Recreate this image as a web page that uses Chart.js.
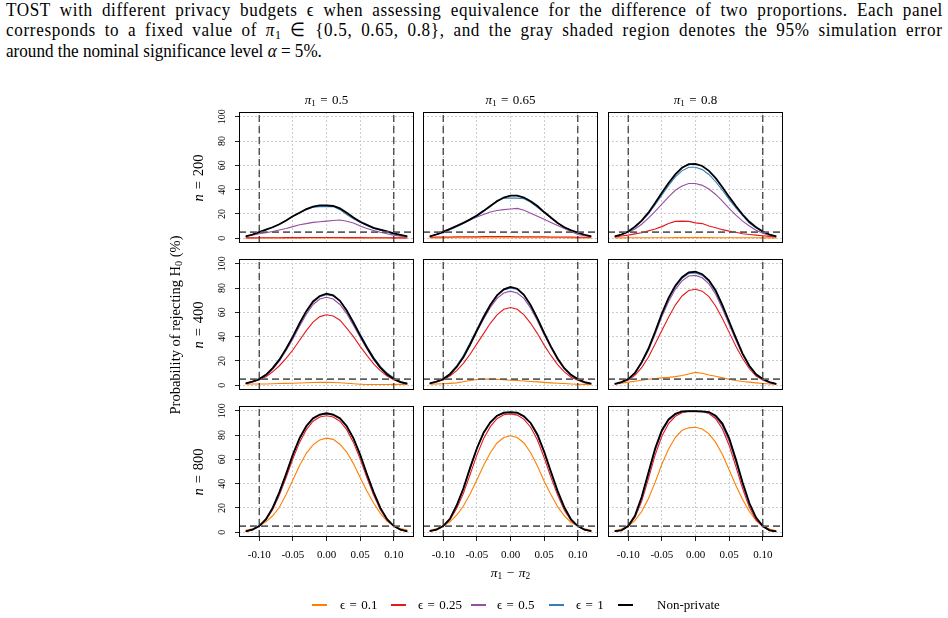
<!DOCTYPE html>
<html><head><meta charset="utf-8">
<script src="https://cdn.jsdelivr.net/npm/chart.js@4.4.1/dist/chart.umd.min.js"></script>
<style>
html,body{margin:0;padding:0;background:#fff;}
#page{position:relative;width:948px;height:618px;overflow:hidden;font-family:"Liberation Serif","Times New Roman",serif;color:#000;}
.cap{position:absolute;left:6px;font-size:19px;line-height:20px;white-space:nowrap;transform-origin:0 0;}
.lbl{position:absolute;transform:translate(-50%,-50%);white-space:nowrap;}
.rot{transform:translate(-50%,-50%) rotate(-90deg);}
canvas{position:absolute;}
sub{font-size:70%;vertical-align:-0.25em;line-height:0;}
.sw{position:absolute;height:2px;}
.lt{position:absolute;font-size:13px;white-space:nowrap;transform:translateY(-50%);}
</style></head>
<body><div id="page">
<div class="cap" id="cap1" style="top:-0.5px">TOST with different privacy budgets ϵ when assessing equivalence for the difference of two proportions. Each panel</div>
<div class="cap" id="cap2" style="top:20px">corresponds to a fixed value of <i>π</i><sub>1</sub> ∈ {0.5, 0.65, 0.8}, and the gray shaded region denotes the 95% simulation error</div>
<div class="cap" id="cap3" style="top:40.5px">around the nominal significance level <i>α</i> = 5%.</div>
</div>
<script>
// ---------------- data ----------------
const diffs = [-0.12,-0.11,-0.10,-0.09,-0.08,-0.07,-0.06,-0.05,-0.04,-0.03,-0.02,-0.01,0,0.01,0.02,0.03,0.04,0.05,0.06,0.07,0.08,0.09,0.10,0.11,0.12];
const xTickValues = [-0.10,-0.05,0.00,0.05,0.10];
const xTickLabels = ['-0.10','-0.05','0.00','0.05','0.10'];
const yTickValues = [0,20,40,60,80,100];
const yTickLabels = ['0','20','40','60','80','100'];
const nValues = [200,400,800];
const pi1Values = ['0.5','0.65','0.8'];
const seriesLabels = ['ϵ = 0.1','ϵ = 0.25','ϵ = 0.5','ϵ = 1','Non-private'];
const eqMargins = [-0.10, 0.10];
const alphaLevel = 5;

// n = 200
const e01_n200_p050  = [0.1,0.1,0.1,0.1,0.1,0.1,0.1,0.2,0.2,0.2,0.2,0.2,0.2,0.2,0.2,0.2,0.2,0.2,0.1,0.1,0.1,0.1,0.1,0.1,0.1];
const e025_n200_p050 = [0.2,0.2,0.3,0.3,0.3,0.3,0.4,0.4,0.4,0.5,0.5,0.5,0.5,0.5,0.5,0.4,0.4,0.4,0.3,0.3,0.3,0.3,0.2,0.2,0.2];
const e05_n200_p050  = [1.4,2.5,3.6,4.5,5.5,6.7,8,9.5,11,12,13,13.5,14,14.5,15,14,12.5,10,8,6.3,4.8,3.6,2.5,1.6,1];
const e1_n200_p050   = [1.4,3,5,7,9,11.5,14.5,18,21,23.5,25.5,26,26,26,23.5,19.5,16,13,10.5,8,6.5,5,3.5,2.5,1.3];
const np_n200_p050   = [1.4,3,5,7,9,11.5,14.5,18,21,24,26,27,27,26.5,24.5,21,17,13.5,11,8.5,7,5.5,4,2.8,1.4];

const e01_n200_p065  = [0.2,0.2,0.2,0.3,0.3,0.3,0.3,0.3,0.3,0.3,0.3,0.3,0.3,0.3,0.3,0.3,0.3,0.3,0.3,0.3,0.3,0.2,0.2,0.2,0.2];
const e025_n200_p065 = [0.8,0.9,1,1,1.1,1.1,1.2,1.2,1.3,1.3,1.3,1.3,1.3,1.2,1.2,1.2,1.1,1.1,1,1,0.9,0.9,0.8,0.8,0.8];
const e05_n200_p065  = [1.4,3.5,5.8,8,10.5,13,15.2,17.5,19.5,21.5,22.8,23.5,24,24.5,23,20.5,18,15.5,13,10.5,8,5.5,3,2,1.3];
const e1_n200_p065   = [1.4,3,5,7,9.5,12,15,18,22,26,31,33,33,33,32.5,29.5,25.5,21,16.5,12.5,9,6.5,4.5,2.8,1.4];
const np_n200_p065   = [1.4,3,5,7.5,10,12.5,15.5,18.7,22.5,26.5,30.5,33.5,35,35,33.5,30.5,26.5,21.5,17,12.5,9,6.5,4.5,2.8,1.4];

const e01_n200_p080  = [0.2,0.2,0.3,0.3,0.3,0.3,0.3,0.3,0.3,0.4,0.4,0.4,0.4,0.4,0.4,0.3,0.3,0.3,0.3,0.3,0.3,0.3,0.2,0.2,0.2];
const e025_n200_p080 = [1,1.8,2.5,3.5,4.5,6,7.5,9.5,12,13.8,14,13.8,12.6,12,10,8.5,7,5.8,4.8,3.6,3,2.5,2,1.5,1];
const e05_n200_p080  = [1.4,2.8,4.8,7.5,11.5,16.5,22,28,34,39.5,43,45,45,43.5,40.5,36,30.5,24.5,19,14,10,6.5,4,2.3,1.2];
const e1_n200_p080   = [1.4,3,5.3,9,14,20,27.5,35.5,43.5,50.5,55.5,58.5,58.5,56.5,52.5,46.5,39.5,32,25,18.5,12.5,8.5,5,2.8,1.3];
const np_n200_p080   = [1.4,3,5.5,9.5,14.5,21,29,37.5,45.5,52.5,58,61,61.3,59.5,55.5,49.5,42,34,26.5,19.5,13.5,9,5.5,3,1.4];

// n = 400
const e01_n400_p050  = [0.8,1,1,1,1.2,1.3,1.5,1.6,1.8,2,2.2,2.3,2.3,2.2,2,1.6,1.2,0.8,0.5,0.5,0.5,0.5,0.6,0.6,0.5];
const e025_n400_p050 = [1.2,2.5,4.5,7,11,16,22,29,37,45,52,56.5,58,57,53.5,47,40,32,24.5,17.5,12,7.5,4.5,2.2,1];
const e05_n400_p050  = [1.3,2.8,4.8,8,13,20,28.5,38,48.5,58.5,66.5,71,72.5,71,66.5,59,49.5,39.5,30,21,14,8.5,5,2.5,1.2];
const e1_n400_p050   = [1.4,3,5,8.5,14,21,30,40,50.5,60.5,68.5,73,74.5,73.5,69.5,62,52.5,42,32,23,15.5,10,6,3,1.5];
const np_n400_p050   = [1.4,3,5,8.5,14,21,30,40,51,61,69,73.5,75.5,74,69.5,61.5,51.5,41,31,22,14.5,9,5,2.5,1.2];

const e01_n400_p065  = [0.8,1,1.2,1.5,1.9,2.8,3.8,4.7,5,5,4.8,4.4,4.1,3.8,3.4,3,2.7,2.3,1.9,1.6,1.3,1,0.8,0.6,0.5];
const e025_n400_p065 = [1.2,2.5,4.5,7.5,12,18,25.5,34,42.5,51,58,62.5,64,62.5,58,51,42.5,33,24.5,17,11,6.5,4,2,1];
const e05_n400_p065  = [1.3,2.8,5,9,15,23,33,44,54.5,64,71.5,76,77.5,76,71.5,63.5,53,41.5,31,21,13.5,8,4.5,2.3,1.1];
const e1_n400_p065   = [1.4,3,5.5,9.5,16,24.5,35,46,57,66.5,74,78.5,80,79,74,65.5,54.5,42.5,31.5,21.5,13.5,8,4.8,2.4,1.2];
const np_n400_p065   = [1.4,3,5,9,15,23,33.5,45,56,66,74,79,81,79.5,74.5,66,55,43,32,22,14,8.5,5,2.5,1.2];

const e01_n400_p080  = [0.5,1.5,2.5,3.2,4,4.8,5.4,6,6.4,7,8,9.2,10.5,9.8,8.3,7.3,6,4.8,3.8,3,2.5,1.9,1.4,0.9,0.5];
const e025_n400_p080 = [0.9,2.2,4.3,8,14.5,23,34,45,56,66,73.5,78,79,77.5,73,65,55,43.5,32,22,13.5,7.5,4.2,2,0.9];
const e05_n400_p080  = [1,2.4,4.8,9.5,18,28.5,42,56.5,69,79,86,90,90.5,88.5,83.5,75,63,50,37,25,15,8.5,4.7,2.3,1];
const e1_n400_p080   = [1,2.5,5,10,18.5,29.5,43.5,58.5,71,81,88,92,92.5,90.5,85.5,77,65,51.5,38,25.5,15.5,8.5,4.8,2.4,1];
const np_n400_p080   = [1,2.5,5,10,19,30,44,59,72,82,89,93,93.5,91.5,86.5,78,66,52.5,39,26,16,9,5,2.5,1];

// n = 800
const e01_n800_p050  = [1.5,2.8,5,8.5,13.5,20.5,31,43,55,65,72,76,77.5,76.5,72.5,66,56.5,45,34,24,15.5,9,5,3,1.8];
const e025_n800_p050 = [0.8,2.2,5,10,18.5,30.5,45,60.5,74,84.5,91.5,95,96,95,91.5,84.5,74,60.5,45,30.5,18.5,10,5,2.2,0.8];
const e05_n800_p050  = [0.7,2,5,10.3,19.5,32.3,47.3,63.2,76.8,86.8,93.3,96.4,97.4,96.4,93.3,86.8,76.8,63.2,47.3,32.3,19.5,10.3,5,2,0.7];
const e1_n800_p050   = [0.7,2,5,10.5,19.8,32.8,47.8,63.8,77.3,87.3,93.8,96.8,97.8,96.8,93.8,87.3,77.3,63.8,47.8,32.8,19.8,10.5,5,2,0.7];
const np_n800_p050   = [0.7,2,5,10.7,20,33,48,64,77.5,87.5,94,97,98,97,94,87.5,77.5,64,48,33,20,10.7,5,2,0.7];

const e01_n800_p065  = [1.5,2.8,5,8.5,14,21.5,31.5,43,55,65.5,73.5,78,79.5,78,73.5,65.5,54.5,42,31,21,13.5,8,5,2.8,1.5];
const e025_n800_p065 = [0.9,2.1,5,10,19.5,32,47.5,63.5,77,87,93.5,96.8,97.5,96.5,93,86.5,76,61.5,45.5,30.5,18,9.5,4.8,2,0.9];
const e05_n800_p065  = [0.8,2,5,10.8,21.5,35.5,52.5,68.5,81.5,90,95.5,98,98.5,98,95,89.5,79.5,65.5,49,33,19.8,10.2,5,2,0.8];
const e1_n800_p065   = [0.8,2,5,11.2,22.5,36.5,53.5,69.5,82,90.5,96,98.3,98.8,98.3,95.3,89.8,80,66,49.5,33.5,20,10.3,5,2,0.8];
const np_n800_p065   = [0.8,2,5,11,22,36,53,69,82,90.5,96,98.5,99,98.5,95.5,90,80.5,66.5,50,34,20.5,10.5,5,2,0.8];

const e01_n800_p080  = [1.2,2.5,5,9.5,17,27.5,41,56,68.5,78,84,86,86.5,85,81,74,64,51.5,38.5,27,17,9.5,5,2.5,1.2];
const e025_n800_p080 = [0.8,1.5,4.8,12,25.5,44,63.5,79,89.5,95.5,98.5,99.4,99.5,99.2,97.8,93.5,85,71.5,54,36,20.5,10,4.5,1.5,0.6];
const e05_n800_p080  = [0.8,1.5,5,12.8,27.5,47,67,82.5,92,97,99.2,99.6,99.6,99.3,98.5,95,87.5,75,57.5,39,22.5,11.3,4.8,1.5,0.6];
const e1_n800_p080   = [0.8,1.5,5,13.3,28.7,48.7,68.7,83.7,92.8,97.3,99.4,99.7,99.7,99.4,98.8,95.7,89,77,59.5,40.5,23.7,11.8,5,1.5,0.6];
const np_n800_p080   = [0.8,1.5,5,13.5,29,49,69,84,93,97.5,99.5,99.8,99.8,99.5,99,96,89.5,77.5,60,41,24,12,5,1.5,0.6];

// ---------------- layout / style ----------------
const seriesColors = ['#FF7F00','#E41A1C','#984EA3','#377EB8','#000000'];
const seriesWidths = [1.1,1.1,1.1,1.1,1.8];
const colLeft = [239, 423, 608];
const rowTop = [112, 259, 406];
const boxW = 175, boxH = 131;
const padL = 40, padT = 6, padR = 6, padB = 32, tickLen = 4;

const panelSeries = [
  [[e01_n200_p050,e025_n200_p050,e05_n200_p050,e1_n200_p050,np_n200_p050],
   [e01_n200_p065,e025_n200_p065,e05_n200_p065,e1_n200_p065,np_n200_p065],
   [e01_n200_p080,e025_n200_p080,e05_n200_p080,e1_n200_p080,np_n200_p080]],
  [[e01_n400_p050,e025_n400_p050,e05_n400_p050,e1_n400_p050,np_n400_p050],
   [e01_n400_p065,e025_n400_p065,e05_n400_p065,e1_n400_p065,np_n400_p065],
   [e01_n400_p080,e025_n400_p080,e05_n400_p080,e1_n400_p080,np_n400_p080]],
  [[e01_n800_p050,e025_n800_p050,e05_n800_p050,e1_n800_p050,np_n800_p050],
   [e01_n800_p065,e025_n800_p065,e05_n800_p065,e1_n800_p065,np_n800_p065],
   [e01_n800_p080,e025_n800_p080,e05_n800_p080,e1_n800_p080,np_n800_p080]]
];

// caption: common horizontal compression; lines 1-2 filled with a mix of letter and word spacing
(function fitCaption() {
  const k = 0.9, target = 937 / k;
  ['cap1', 'cap2'].forEach(id => {
    const el = document.getElementById(id);
    const txt = el.textContent;
    const spaces = (txt.match(/ /g) || []).length;
    const extra = target - el.offsetWidth;
    el.style.letterSpacing = (0.5 * extra / txt.length) + 'px';
    el.style.wordSpacing = (0.5 * extra / spaces) + 'px';
    el.style.transform = 'scaleX(' + (937 / el.offsetWidth) + ')';
  });
  document.getElementById('cap3').style.transform = 'scaleX(' + k + ')';
})();

const page = document.getElementById('page');
function addLabel(html, x, y, size, rotated) {
  const d = document.createElement('div');
  d.className = 'lbl' + (rotated ? ' rot' : '');
  d.style.left = x + 'px'; d.style.top = y + 'px'; d.style.fontSize = size + 'px';
  d.innerHTML = html;
  page.appendChild(d);
}

const panelDecor = {
  id: 'panelDecor',
  afterDraw(chart, args, opts) {
    const {ctx, chartArea: a, scales: {x, y}} = chart;
    ctx.save();
    ctx.strokeStyle = '#000'; ctx.lineWidth = 1;
    ctx.strokeRect(Math.round(a.left) + 0.5, Math.round(a.top) + 0.5, Math.round(a.right - a.left) - 1, Math.round(a.bottom - a.top) - 1);
    ctx.fillStyle = '#000';
    ctx.textAlign = 'center'; ctx.textBaseline = 'middle';
    if (opts.showY) {
      ctx.font = '10px "Liberation Serif"';
      yTickValues.forEach((v, i) => {
        const py = y.getPixelForValue(v);
        ctx.save(); ctx.translate(a.left - 17, py); ctx.rotate(-Math.PI / 2);
        ctx.fillText(yTickLabels[i], 0, 0); ctx.restore();
      });
    }
    if (opts.showX) {
      ctx.font = '11px "Liberation Serif"';
      xTickValues.forEach((v, i) => {
        ctx.fillText(xTickLabels[i], x.getPixelForValue(v), a.bottom + 18);
      });
    }
    ctx.restore();
  }
};

for (let r = 0; r < 3; r++) {
  for (let c = 0; c < 3; c++) {
    const cv = document.createElement('canvas');
    const w = boxW + padL + padR, h = boxH + padT + padB;
    cv.width = w; cv.height = h;
    cv.style.width = w + 'px'; cv.style.height = h + 'px';
    cv.style.left = (colLeft[c] - padL) + 'px'; cv.style.top = (rowTop[r] - padT) + 'px';
    page.appendChild(cv);
    const showX = r === 2, showY = c === 0;
    const datasets = [];
    eqMargins.forEach(m => datasets.push({
      data: [{x: m, y: -4}, {x: m, y: 104}], borderColor: '#222', borderWidth: 1.1,
      borderDash: [7, 4], pointRadius: 0, order: 0
    }));
    datasets.push({
      data: [{x: -0.13, y: alphaLevel}, {x: 0.13, y: alphaLevel}], borderColor: '#5e5e5e', borderWidth: 1.8,
      borderDash: [7, 4], pointRadius: 0, order: 0
    });
    panelSeries[r][c].forEach((vals, s) => datasets.push({
      label: seriesLabels[s],
      data: diffs.map((d, i) => ({x: d, y: vals[i]})),
      borderColor: seriesColors[s], borderWidth: seriesWidths[s],
      pointRadius: 0, tension: 0, order: 5 - s
    }));
    const gridBase = {color: '#cccccc', lineWidth: 1, drawTicks: true, tickLength: tickLen, tickWidth: 1};
    new Chart(cv, {
      type: 'line',
      data: {datasets},
      options: {
        responsive: false, animation: false, devicePixelRatio: 1,
        layout: {autoPadding: false, padding: {left: padL - tickLen, top: padT, right: padR, bottom: padB - tickLen}},
        plugins: {legend: {display: false}, tooltip: {enabled: false}, panelDecor: {showX, showY}},
        scales: {
          x: {type: 'linear', min: -0.13, max: 0.13,
              afterBuildTicks: s => { s.ticks = xTickValues.map(v => ({value: v})); },
              ticks: {display: false},
              grid: Object.assign({}, gridBase, {tickColor: showX ? '#222' : 'rgba(0,0,0,0)'}),
              border: {display: false, dash: [2, 2]}},
          y: {type: 'linear', min: -4, max: 104,
              afterBuildTicks: s => { s.ticks = yTickValues.map(v => ({value: v})); },
              ticks: {display: false},
              grid: Object.assign({}, gridBase, {tickColor: showY ? '#222' : 'rgba(0,0,0,0)'}),
              border: {display: false, dash: [2, 2]}}
        }
      },
      plugins: [panelDecor]
    });
  }
}

// panel titles, row labels, axis titles
pi1Values.forEach((p, c) => addLabel('<i>π</i><sub>1</sub>&#8196;=&#8196;' + p, colLeft[c] + boxW / 2, 100, 13, false));
nValues.forEach((n, r) => addLabel('<i>n</i>&#8196;=&#8196;' + n, 198, rowTop[r] + boxH / 2, 14.5, true));
addLabel('Probability of rejecting H<sub>0</sub> (%)', 175, 325, 14.5, true);
addLabel('<i>π</i><sub>1</sub>&#8196;−&#8196;<i>π</i><sub>2</sub>', colLeft[1] + boxW / 2, 573, 13.5, false);

// legend
const legendSw = [312, 391, 471, 549, 618];
const legendTx = [340, 418, 497, 576, 657];
seriesLabels.forEach((lab, s) => {
  const sw = document.createElement('div');
  sw.className = 'sw';
  sw.style.left = legendSw[s] + 'px'; sw.style.top = '604px'; sw.style.width = '15px';
  sw.style.background = seriesColors[s];
  page.appendChild(sw);
  const t = document.createElement('div');
  t.className = 'lt';
  t.style.left = legendTx[s] + 'px'; t.style.top = '605px';
  t.innerHTML = s < 4 ? lab.replace(' = ', '&#8196;=&#8196;') : lab;
  page.appendChild(t);
});
</script>
</body></html>
